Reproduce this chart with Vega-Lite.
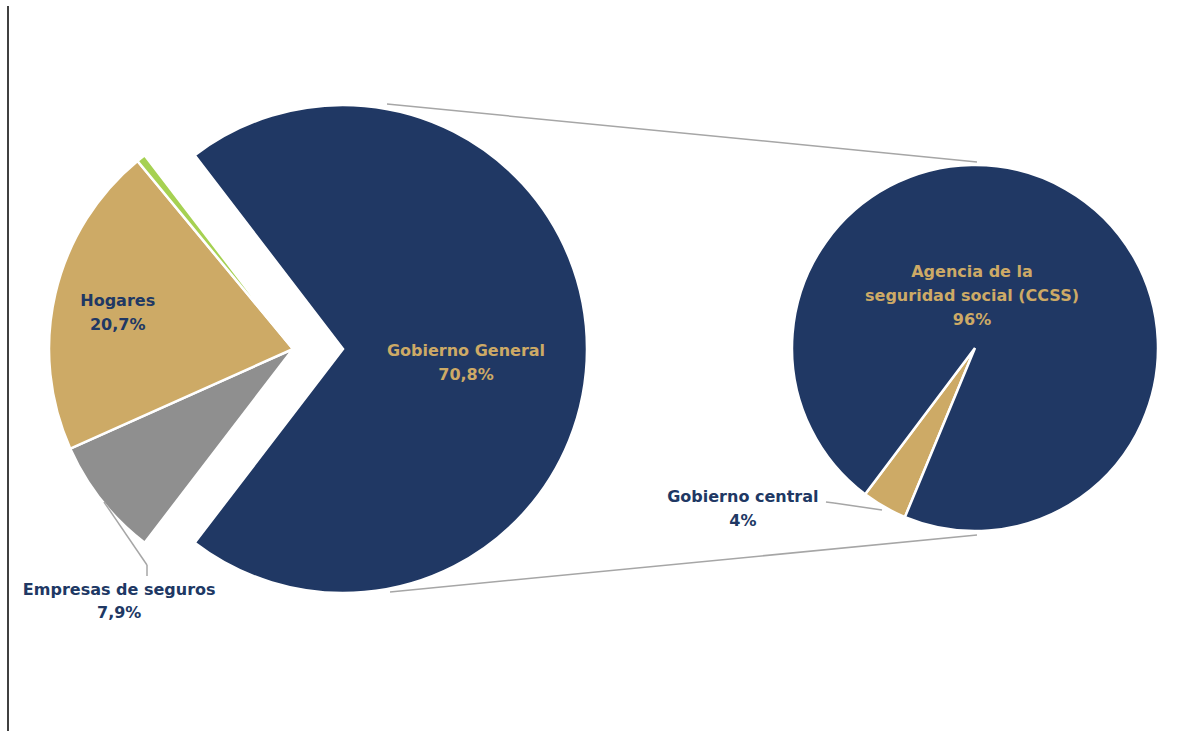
{
  "$schema": "https://vega.github.io/schema/vega-lite/v6.json",
  "width": 1179,
  "height": 731,
  "padding": 0,
  "autosize": {"type": "none"},
  "background": "white",
  "config": {"view": {"stroke": null}, "font": "DejaVu Sans"},
  "data": {
    "values": [
      {"grafico": "Total", "sector": "Empresas de seguros", "pct": 7.9, "etiqueta": "Empresas de seguros\n7,9%"},
      {"grafico": "Total", "sector": "Hogares", "pct": 20.7, "etiqueta": "Hogares\n20,7%"},
      {"grafico": "Total", "sector": "Otros", "pct": 0.6, "etiqueta": ""},
      {"grafico": "Total", "sector": "Gobierno General", "pct": 70.8, "etiqueta": "Gobierno General\n70,8%"},
      {"grafico": "Gobierno General", "sector": "Gobierno central", "pct": 4, "etiqueta": "Gobierno central\n4%"},
      {"grafico": "Gobierno General", "sector": "Agencia de la seguridad social (CCSS)", "pct": 96, "etiqueta": "Agencia de la\nseguridad social (CCSS)\n96%"}
    ]
  },
  "transform": [
    {"stack": "pct", "groupby": ["grafico"], "as": ["a0", "a1"]},
    {"calculate": "(datum.a0 + datum.a1) / 2", "as": "amid"}
  ],
  "resolve": {"scale": {"theta": "independent"}},
  "layer": [
    {
      "transform": [{"filter": "datum.grafico === 'Total' && datum.sector !== 'Gobierno General'"}],
      "mark": {"type": "arc", "outerRadius": 244, "stroke": "white", "strokeWidth": 2.5},
      "encoding": {
        "x": {"datum": 293, "type": "quantitative", "scale": {"domain": [0, 1179], "zero": false, "nice": false}, "axis": null},
        "y": {"datum": 349, "type": "quantitative", "scale": {"domain": [0, 731], "zero": false, "nice": false, "reverse": true}, "axis": null},
        "theta": {"field": "a0", "type": "quantitative", "stack": null, "scale": {"domain": [0, 100], "range": [3.7951, 10.0783]}},
        "theta2": {"field": "a1"},
        "color": {"field": "sector", "type": "nominal", "legend": null,
          "scale": {"domain": ["Gobierno General", "Hogares", "Empresas de seguros", "Otros", "Agencia de la seguridad social (CCSS)", "Gobierno central"],
                    "range": ["#203864", "#CDAA66", "#8F8F8F", "#A6D152", "#203864", "#CDAA66"]}}
      }
    },
    {
      "transform": [{"filter": "datum.sector === 'Gobierno General'"}],
      "mark": {"type": "arc", "outerRadius": 244, "stroke": "white", "strokeWidth": 2.5},
      "encoding": {
        "x": {"datum": 343, "type": "quantitative", "scale": {"domain": [0, 1179], "zero": false, "nice": false}, "axis": null},
        "y": {"datum": 349, "type": "quantitative", "scale": {"domain": [0, 731], "zero": false, "nice": false, "reverse": true}, "axis": null},
        "theta": {"field": "a0", "type": "quantitative", "stack": null, "scale": {"domain": [0, 100], "range": [3.7951, 10.0783]}},
        "theta2": {"field": "a1"},
        "color": {"field": "sector", "type": "nominal", "legend": null}
      }
    },
    {
      "transform": [{"filter": "datum.grafico === 'Gobierno General'"}],
      "mark": {"type": "arc", "outerRadius": 183, "stroke": "white", "strokeWidth": 2.5},
      "encoding": {
        "x": {"datum": 975, "type": "quantitative", "scale": {"domain": [0, 1179], "zero": false, "nice": false}, "axis": null},
        "y": {"datum": 348, "type": "quantitative", "scale": {"domain": [0, 731], "zero": false, "nice": false, "reverse": true}, "axis": null},
        "theta": {"field": "a0", "type": "quantitative", "stack": null, "scale": {"domain": [0, 100], "range": [3.5343, 9.8175]}},
        "theta2": {"field": "a1"},
        "color": {"field": "sector", "type": "nominal", "legend": null}
      }
    },
    {
      "transform": [{"filter": "datum.sector === 'Hogares'"}],
      "mark": {"type": "text", "radius": 180, "dy": -8, "fontSize": 16, "fontWeight": "bold", "fill": "#203864", "lineBreak": "\n", "lineHeight": 24, "align": "center", "baseline": "middle"},
      "encoding": {
        "x": {"datum": 293, "type": "quantitative", "scale": {"domain": [0, 1179], "zero": false, "nice": false}, "axis": null},
        "y": {"datum": 350, "type": "quantitative", "scale": {"domain": [0, 731], "zero": false, "nice": false, "reverse": true}, "axis": null},
        "theta": {"field": "amid", "type": "quantitative", "stack": null, "scale": {"domain": [0, 100], "range": [3.7951, 10.0783]}},
        "text": {"field": "etiqueta"}
      }
    },
    {
      "transform": [{"filter": "datum.sector === 'Gobierno General'"}],
      "mark": {"type": "text", "radius": 123, "dy": 1, "fontSize": 16, "fontWeight": "bold", "fill": "#CDAA66", "lineBreak": "\n", "lineHeight": 24, "align": "center", "baseline": "middle"},
      "encoding": {
        "x": {"datum": 343, "type": "quantitative", "scale": {"domain": [0, 1179], "zero": false, "nice": false}, "axis": null},
        "y": {"datum": 350, "type": "quantitative", "scale": {"domain": [0, 731], "zero": false, "nice": false, "reverse": true}, "axis": null},
        "theta": {"field": "amid", "type": "quantitative", "stack": null, "scale": {"domain": [0, 100], "range": [3.7951, 10.0783]}},
        "text": {"field": "etiqueta"}
      }
    },
    {
      "transform": [{"filter": "datum.sector === 'Empresas de seguros'"}],
      "mark": {"type": "text", "radius": 270, "dx": 38, "dy": 73, "fontSize": 16, "fontWeight": "bold", "fill": "#203864", "lineBreak": "\n", "lineHeight": 23, "align": "center", "baseline": "middle"},
      "encoding": {
        "x": {"datum": 293, "type": "quantitative", "scale": {"domain": [0, 1179], "zero": false, "nice": false}, "axis": null},
        "y": {"datum": 350, "type": "quantitative", "scale": {"domain": [0, 731], "zero": false, "nice": false, "reverse": true}, "axis": null},
        "theta": {"field": "amid", "type": "quantitative", "stack": null, "scale": {"domain": [0, 100], "range": [3.7951, 10.0783]}},
        "text": {"field": "etiqueta"}
      }
    },
    {
      "transform": [{"filter": "datum.sector === 'Agencia de la seguridad social (CCSS)'"}],
      "mark": {"type": "text", "dx": -3, "dy": -76, "fontSize": 16, "fontWeight": "bold", "fill": "#CDAA66", "lineBreak": "\n", "lineHeight": 24, "align": "center", "baseline": "middle"},
      "encoding": {
        "x": {"datum": 975, "type": "quantitative", "scale": {"domain": [0, 1179], "zero": false, "nice": false}, "axis": null},
        "y": {"datum": 348, "type": "quantitative", "scale": {"domain": [0, 731], "zero": false, "nice": false, "reverse": true}, "axis": null},
        "text": {"field": "etiqueta"}
      }
    },
    {
      "transform": [{"filter": "datum.sector === 'Gobierno central'"}],
      "mark": {"type": "text", "radius": 190, "dx": -138, "dy": -16, "fontSize": 16, "fontWeight": "bold", "fill": "#203864", "lineBreak": "\n", "lineHeight": 24, "align": "center", "baseline": "middle"},
      "encoding": {
        "x": {"datum": 975, "type": "quantitative", "scale": {"domain": [0, 1179], "zero": false, "nice": false}, "axis": null},
        "y": {"datum": 348, "type": "quantitative", "scale": {"domain": [0, 731], "zero": false, "nice": false, "reverse": true}, "axis": null},
        "theta": {"field": "amid", "type": "quantitative", "stack": null, "scale": {"domain": [0, 100], "range": [3.5343, 9.8175]}},
        "text": {"field": "etiqueta"}
      }
    },
    {
      "data": {"values": [{}]},
      "mark": {"type": "rule", "stroke": "#A6A6A6", "strokeWidth": 1.5},
      "encoding": {
        "x": {"datum": 387, "type": "quantitative", "scale": {"domain": [0, 1179], "zero": false, "nice": false}, "axis": null},
        "y": {"datum": 104, "type": "quantitative", "scale": {"domain": [0, 731], "zero": false, "nice": false, "reverse": true}, "axis": null},
        "x2": {"datum": 977},
        "y2": {"datum": 162}
      }
    },
    {
      "data": {"values": [{}]},
      "mark": {"type": "rule", "stroke": "#A6A6A6", "strokeWidth": 1.5},
      "encoding": {
        "x": {"datum": 390, "type": "quantitative", "scale": {"domain": [0, 1179], "zero": false, "nice": false}, "axis": null},
        "y": {"datum": 592, "type": "quantitative", "scale": {"domain": [0, 731], "zero": false, "nice": false, "reverse": true}, "axis": null},
        "x2": {"datum": 977},
        "y2": {"datum": 535}
      }
    },
    {
      "data": {"values": [{}]},
      "mark": {"type": "rule", "stroke": "#A6A6A6", "strokeWidth": 1.5},
      "encoding": {
        "x": {"datum": 104, "type": "quantitative", "scale": {"domain": [0, 1179], "zero": false, "nice": false}, "axis": null},
        "y": {"datum": 502, "type": "quantitative", "scale": {"domain": [0, 731], "zero": false, "nice": false, "reverse": true}, "axis": null},
        "x2": {"datum": 147},
        "y2": {"datum": 565}
      }
    },
    {
      "data": {"values": [{}]},
      "mark": {"type": "rule", "stroke": "#A6A6A6", "strokeWidth": 1.5},
      "encoding": {
        "x": {"datum": 147, "type": "quantitative", "scale": {"domain": [0, 1179], "zero": false, "nice": false}, "axis": null},
        "y": {"datum": 565, "type": "quantitative", "scale": {"domain": [0, 731], "zero": false, "nice": false, "reverse": true}, "axis": null},
        "x2": {"datum": 147},
        "y2": {"datum": 576}
      }
    },
    {
      "data": {"values": [{}]},
      "mark": {"type": "rule", "stroke": "#A6A6A6", "strokeWidth": 1.5},
      "encoding": {
        "x": {"datum": 826, "type": "quantitative", "scale": {"domain": [0, 1179], "zero": false, "nice": false}, "axis": null},
        "y": {"datum": 502, "type": "quantitative", "scale": {"domain": [0, 731], "zero": false, "nice": false, "reverse": true}, "axis": null},
        "x2": {"datum": 834},
        "y2": {"datum": 503}
      }
    },
    {
      "data": {"values": [{}]},
      "mark": {"type": "rule", "stroke": "#A6A6A6", "strokeWidth": 1.5},
      "encoding": {
        "x": {"datum": 834, "type": "quantitative", "scale": {"domain": [0, 1179], "zero": false, "nice": false}, "axis": null},
        "y": {"datum": 503, "type": "quantitative", "scale": {"domain": [0, 731], "zero": false, "nice": false, "reverse": true}, "axis": null},
        "x2": {"datum": 882},
        "y2": {"datum": 510}
      }
    },
    {
      "data": {"values": [{}]},
      "mark": {"type": "rule", "stroke": "#000000", "strokeWidth": 1.5},
      "encoding": {
        "x": {"datum": 8, "type": "quantitative", "scale": {"domain": [0, 1179], "zero": false, "nice": false}, "axis": null},
        "y": {"datum": 6, "type": "quantitative", "scale": {"domain": [0, 731], "zero": false, "nice": false, "reverse": true}, "axis": null},
        "x2": {"datum": 8},
        "y2": {"datum": 731}
      }
    }
  ]
}
